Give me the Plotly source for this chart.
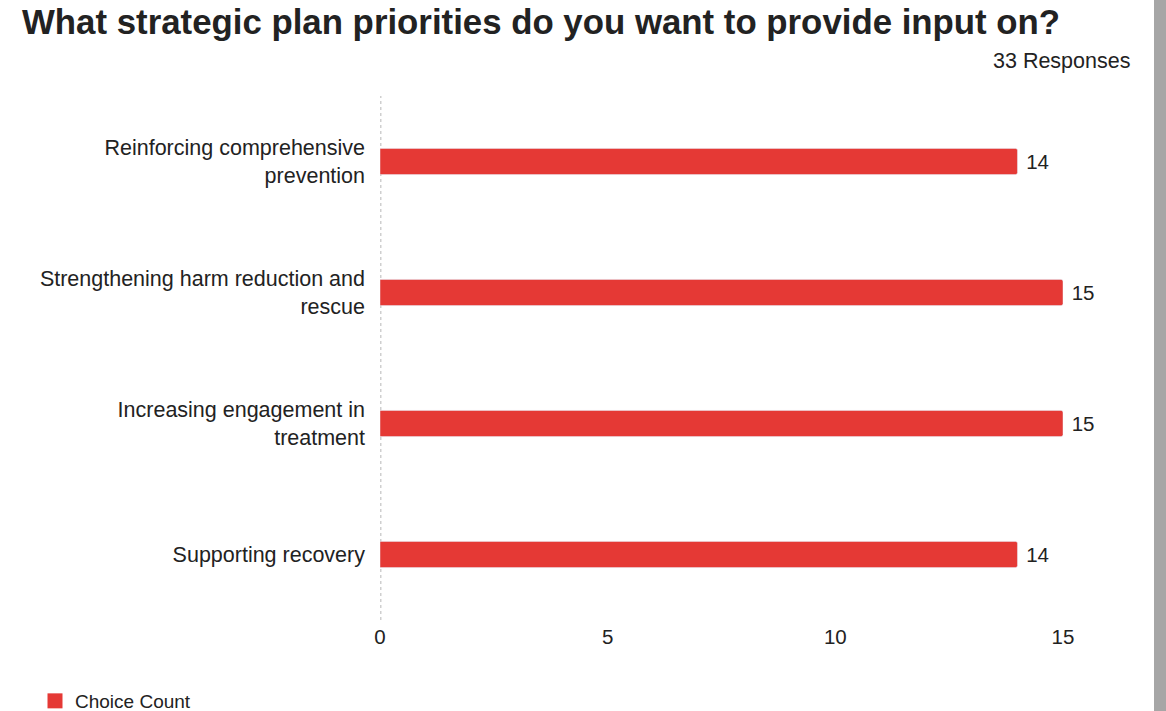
import plotly.graph_objects as go

categories = [
    "Reinforcing comprehensive<br>prevention",
    "Strengthening harm reduction and<br>rescue",
    "Increasing engagement in<br>treatment",
    "Supporting recovery",
]
counts = [14, 15, 15, 14]
tick_vals = [0, 5, 10, 15]
series_name = "Choice Count"
title_text = "What strategic plan priorities do you want to provide input on?"
responses_text = "33 Responses"

RED = "#e53935"
TXT = "#222222"
FONT = "Liberation Sans, Arial, sans-serif"

fig = go.Figure()
fig.add_trace(go.Bar(
    x=counts, y=categories, orientation="h", name=series_name,
    marker=dict(color=RED, cornerradius=2),
    width=0.2,
    texttemplate=" %{x}", textposition="outside",
    textfont=dict(size=20.5, color=TXT, family=FONT),
    cliponaxis=False,
    showlegend=False, legendgroup="cc",
))
# legend entry with a larger square swatch
fig.add_trace(go.Scatter(
    x=[None], y=[None], mode="markers", name=series_name, legendgroup="cc",
    marker=dict(symbol="square", size=15, color=RED), showlegend=True,
))

fig.add_shape(type="line", xref="x", yref="paper", x0=0, x1=0, y0=0, y1=1,
              line=dict(color="#cfcfcf", width=3, dash="dot"), layer="below")
# right edge grey strip
fig.add_shape(type="rect", xref="paper", yref="paper",
              x0=(1154-380)/683, x1=(1170-380)/683, y0=-2, y1=2,
              fillcolor="#a6a6a6", line=dict(width=0))

fig.update_layout(
    width=1166, height=711,
    margin=dict(l=380, r=103, t=96, b=91, autoexpand=False),
    paper_bgcolor="white", plot_bgcolor="white",
    font=dict(family=FONT, color=TXT, size=20.5),
    title=dict(text="<b>" + title_text + "</b>", x=22/1166, xanchor="left",
               y=1 - 22/711, yanchor="middle", xref="container", yref="container",
               font=dict(size=34.8, color=TXT, family=FONT)),
    xaxis=dict(range=[0, 15], tickvals=tick_vals, showgrid=False, zeroline=False,
               showline=False, tickfont=dict(size=20.5, color=TXT), ticks="",
               ticklabelstandoff=2, fixedrange=True),
    yaxis=dict(autorange="reversed", showgrid=False, zeroline=False, showline=False,
               tickfont=dict(size=21.5, color=TXT), ticks="", ticklabelstandoff=14),
    legend=dict(orientation="h", xref="paper", yref="paper",
                x=-(380-35)/683, y=-81/524, xanchor="left", yanchor="middle",
                font=dict(size=19, color=TXT), itemwidth=30),
    annotations=[dict(text=responses_text, xref="paper", yref="paper",
                      x=(1132-380)/683, y=1 + (96-61)/524, xanchor="right", yanchor="middle",
                      showarrow=False, font=dict(size=21.5, color=TXT))],
)

fig.write_html("out.html")
